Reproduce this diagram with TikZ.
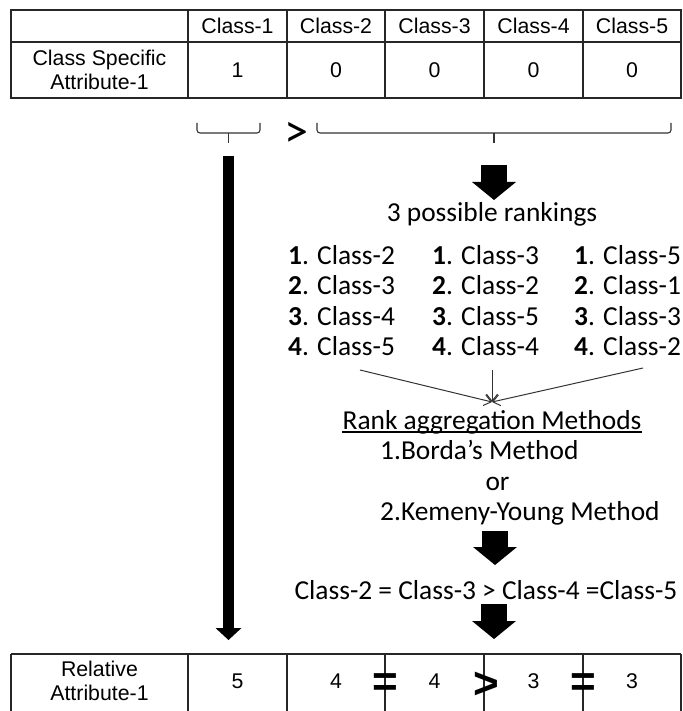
\documentclass[tikz,border=0pt]{standalone}
\usepackage{fontspec}
\setmainfont{Carlito}
\newfontfamily\tabfont{Liberation Sans}
\usetikzlibrary{arrows.meta,calc}

\begin{document}
\begin{tikzpicture}[x=1pt,y=-1pt,
  gridline/.style={line width=1.2pt, draw=black!85},
  cell/.style={font=\tabfont\fontsize{21.3}{24.5}\selectfont, align=center, inner sep=0pt},
  txt/.style={font=\fontsize{27.4}{32}\selectfont, inner sep=0pt, anchor=base west},
  ctxt/.style={font=\fontsize{27.4}{32}\selectfont, inner sep=0pt, anchor=base},
  curly/.style={draw=black!80, line width=1.1pt, rounded corners=3pt},
  blockarrow/.style={line width=26pt, -{Triangle[width=44pt, length=18pt, line width=0pt]}},
  longarrow/.style={line width=11pt, -{Triangle[width=26pt, length=12pt, line width=0pt]}},
  thinarrow/.style={draw=black!80, line width=1pt, -{Straight Barb[length=7pt, width=11pt]}},
  relsym/.style={font=\tabfont\bfseries\fontsize{44}{44}\selectfont, inner sep=0pt},
]
\useasboundingbox (0,0) rectangle (682,711);
\clip (0,0) rectangle (682,711);

% ---------- upper table ----------
\draw[gridline] (11,10) rectangle (681,98);
\draw[gridline] (11,42) -- (681,42);
\foreach \x in {188,287,385,484,583}
  \draw[gridline] (\x,10) -- (\x,98);

\node[cell] (h1) at (237.5,26) {Class-1};
\node[cell] (h2) at (336,26) {Class-2};
\node[cell] (h3) at (434.5,26) {Class-3};
\node[cell] (h4) at (533.5,26) {Class-4};
\node[cell] (h5) at (632,26) {Class-5};

\node[cell] (csa) at (99.5,70) {Class Specific\\Attribute-1};
\node[cell] (v1) at (237.5,70) {1};
\node[cell] (v2) at (336,70) {0};
\node[cell] (v3) at (434.5,70) {0};
\node[cell] (v4) at (533.5,70) {0};
\node[cell] (v5) at (632,70) {0};

% ---------- braces ----------
\coordinate (lbrace) at (228.5,143);
\coordinate (rbrace) at (494,143);
\draw[curly] (197,123) -- (197,133) -- (260,133) -- (260,123);
\draw[curly] (lbrace) -- (228.5,133);
\draw[curly] (317,123) -- (317,133) -- (671,133) -- (671,123);
\draw[curly] (rbrace) -- (494,133);
\node[font=\fontsize{48}{48}\selectfont, inner sep=0pt] (gt) at (296.5,134.5) {>};

% ---------- right branch ----------
\coordinate (a1s) at (494,165);
\coordinate (a1e) at (494,200);
\draw[blockarrow] (a1s) -- (a1e);

\node[ctxt] (poss) at (492,222) {3 possible rankings};

\node[txt] (r11) at (288,264) {\textbf{1}. Class-2};
\node[txt] (r12) at (288,294) {\textbf{2}. Class-3};
\node[txt] (r13) at (288,325) {\textbf{3}. Class-4};
\node[txt] (r14) at (288,355) {\textbf{4}. Class-5};

\node[txt] (r21) at (432,264) {\textbf{1}. Class-3};
\node[txt] (r22) at (432,294) {\textbf{2}. Class-2};
\node[txt] (r23) at (432,325) {\textbf{3}. Class-5};
\node[txt] (r24) at (432,355) {\textbf{4}. Class-4};

\node[txt] (r31) at (574,264) {\textbf{1}. Class-5};
\node[txt] (r32) at (574,294) {\textbf{2}. Class-1};
\node[txt] (r33) at (574,325) {\textbf{3}. Class-3};
\node[txt] (r34) at (574,355) {\textbf{4}. Class-2};

\coordinate (c1) at (360,370);
\coordinate (c2) at (492,370);
\coordinate (c3) at (643,368);
\coordinate (meet) at (492,402);
\draw[thinarrow] (c1) -- (meet);
\draw[thinarrow] (c2) -- (meet);
\draw[thinarrow] (c3) -- (meet);

\node[ctxt] (rank) at (492,429) {Rank aggregation Methods};
\draw[line width=1.1pt] ($(rank.base west)+(0,3)$) -- ($(rank.base east)+(0,3)$);

\node[txt] (borda) at (380,459) {1.Borda’s Method};
\node[ctxt] (or) at (497.5,490) {or};
\node[txt] (kemeny) at (380,520) {2.Kemeny-Young Method};

\coordinate (a2s) at (495,531);
\coordinate (a2e) at (495,565);
\draw[blockarrow] (a2s) -- (a2e);

\node[ctxt] (order) at (486,599) {Class-2 = Class-3 > Class-4 =Class-5};

\coordinate (a3s) at (494,604);
\coordinate (a3e) at (494,639);
\draw[blockarrow] (a3s) -- (a3e);

% ---------- left branch ----------
\coordinate (lend) at (228.5,640);
\draw[longarrow] (228.5,156) -- (lend);

% ---------- lower table ----------
\draw[gridline] (11,654) -- (681,654);
\foreach \x in {11,188,287,385,484,583,681}
  \draw[gridline] (\x,654) -- (\x,713);

\node[cell] (rel) at (99.5,681) {Relative\\Attribute-1};
\node[cell] (w1) at (237.5,681) {5};
\node[cell] (w2) at (336,681) {4};
\node[cell] (w3) at (434.5,681) {4};
\node[cell] (w4) at (533.5,681) {3};
\node[cell] (w5) at (632,681) {3};

\node[relsym] (eqA) at (385,685) {=};
\node[relsym] (gtB) at (486.5,685) {>};
\node[relsym] (eqC) at (583,685) {=};
\end{tikzpicture}
\end{document}
